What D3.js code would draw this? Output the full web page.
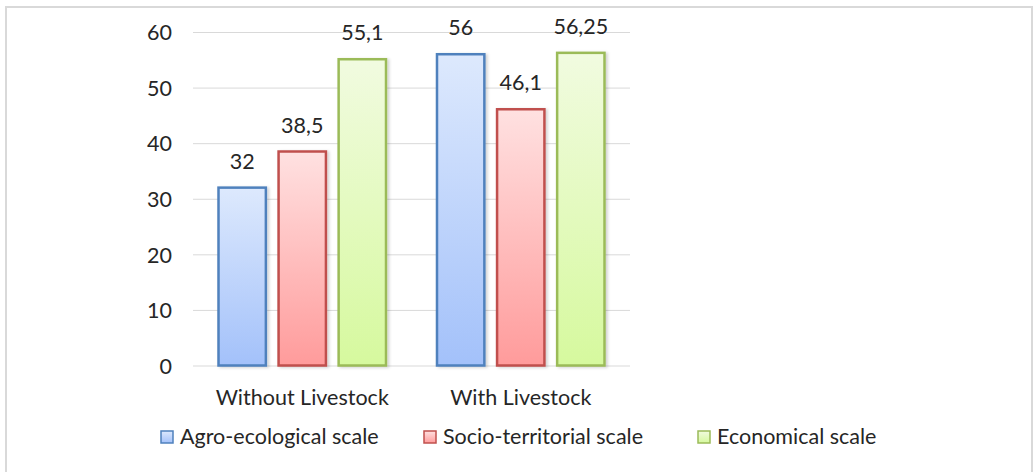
<!DOCTYPE html>
<html><head><meta charset="utf-8">
<script src="https://cdn.jsdelivr.net/npm/d3@7"></script>
<style>
html,body{margin:0;padding:0;background:#fff;}
svg text{font-family:Lato,"Open Sans",sans-serif;fill:#262626;}
</style></head>
<body>
<svg id="chart" width="1035" height="472"></svg>
<script>
const categories = ["Without Livestock", "With Livestock"];
const seriesNames = ["Agro-ecological scale", "Socio-territorial scale", "Economical scale"];
const agroEcological = [32, 56];
const socioTerritorial = [38.5, 46.1];
const economical = [55.1, 56.25];
const valueLabels = [["32", "56"], ["38,5", "46,1"], ["55,1", "56,25"]];
const yTicks = [0, 10, 20, 30, 40, 50, 60];

const series = [agroEcological, socioTerritorial, economical];
const strokes = ["#4f81bd", "#c0504d", "#9bbb59"];
const topCol = ["#dde9fd", "#ffe1e1", "#f1fbe0"];
const botCol = ["#a3c1fa", "#ff9b9b", "#d6f99e"];
const fs = "21.5px";

const svg = d3.select("#chart");
const defs = svg.append("defs");
series.forEach((s, i) => {
  const g = defs.append("linearGradient").attr("id", "g" + i)
    .attr("x1", 0).attr("y1", 0).attr("x2", 0).attr("y2", 1);
  g.append("stop").attr("offset", "0%").attr("stop-color", topCol[i]);
  g.append("stop").attr("offset", "100%").attr("stop-color", botCol[i]);
});
const flt = defs.append("filter").attr("id", "sh").attr("x", "-20%").attr("y", "-5%").attr("width", "150%").attr("height", "115%");
flt.append("feDropShadow").attr("dx", 2).attr("dy", 1).attr("stdDeviation", 1.5).attr("flood-color", "#000").attr("flood-opacity", 0.18);

// frame
svg.append("rect").attr("x", 6).attr("y", 7).attr("width", 1026).attr("height", 470)
  .attr("fill", "#fff").attr("stroke", "#d9d9d9").attr("stroke-width", 2);

const plotLeft = 193, plotRight = 630, plotTop = 32, plotBottom = 365.5;
const y = d3.scaleLinear().domain([0, 60]).range([plotBottom, plotTop]);
const x0 = d3.scaleBand().domain(categories).range([plotLeft, plotRight]).paddingInner(0.222).paddingOuter(0.111);
const x1 = d3.scaleBand().domain(d3.range(3)).range([0, x0.bandwidth()]).paddingInner(0.17);

// gridlines
const yAxis = d3.axisLeft(y).tickValues(yTicks).tickSize(-(plotRight - plotLeft)).tickFormat(d3.format("d"));
const ga = svg.append("g").attr("transform", `translate(${plotLeft},0)`).call(yAxis);
ga.select(".domain").remove();
ga.selectAll(".tick line").attr("stroke", "#d9d9d9").attr("stroke-width", 1);
ga.selectAll(".tick text").attr("x", -21).attr("dy", "0.36em").style("font-size", fs).attr("fill", "#262626");

// bars
const groups = svg.append("g").selectAll("g").data(categories).join("g")
  .attr("transform", d => `translate(${x0(d)},0)`);
series.forEach((s, i) => {
  groups.append("rect")
    .attr("x", x1(i) + 1.25)
    .attr("y", (d, j) => y(s[j]))
    .attr("width", x1.bandwidth() - 2.5)
    .attr("height", (d, j) => plotBottom - y(s[j]))
    .attr("fill", `url(#g${i})`)
    .attr("stroke", strokes[i]).attr("stroke-width", 2.5)
    .attr("filter", "url(#sh)");
  groups.append("text")
    .attr("x", x1(i) + x1.bandwidth() / 2)
    .attr("y", (d, j) => y(s[j]) - 19)
    .attr("text-anchor", "middle")
    .style("font-size", fs)
    .text((d, j) => valueLabels[i][j]);
});

// category labels
svg.append("g").selectAll("text").data(categories).join("text")
  .attr("x", d => x0(d) + x0.bandwidth() / 2)
  .attr("y", 405)
  .attr("text-anchor", "middle")
  .style("font-size", fs)
  .text(d => d);

// legend
const legX = [160, 423, 697];
const leg = svg.append("g").selectAll("g").data(seriesNames).join("g")
  .attr("transform", (d, i) => `translate(${legX[i]},430)`);
leg.append("rect").attr("x", 1).attr("y", 1).attr("width", 12).attr("height", 12)
  .attr("fill", (d, i) => `url(#g${i})`).attr("stroke", (d, i) => strokes[i]).attr("stroke-width", 1.5);
leg.append("text").attr("x", 20).attr("y", 13.5).style("font-size", fs).text(d => d);
</script>
</body></html>
